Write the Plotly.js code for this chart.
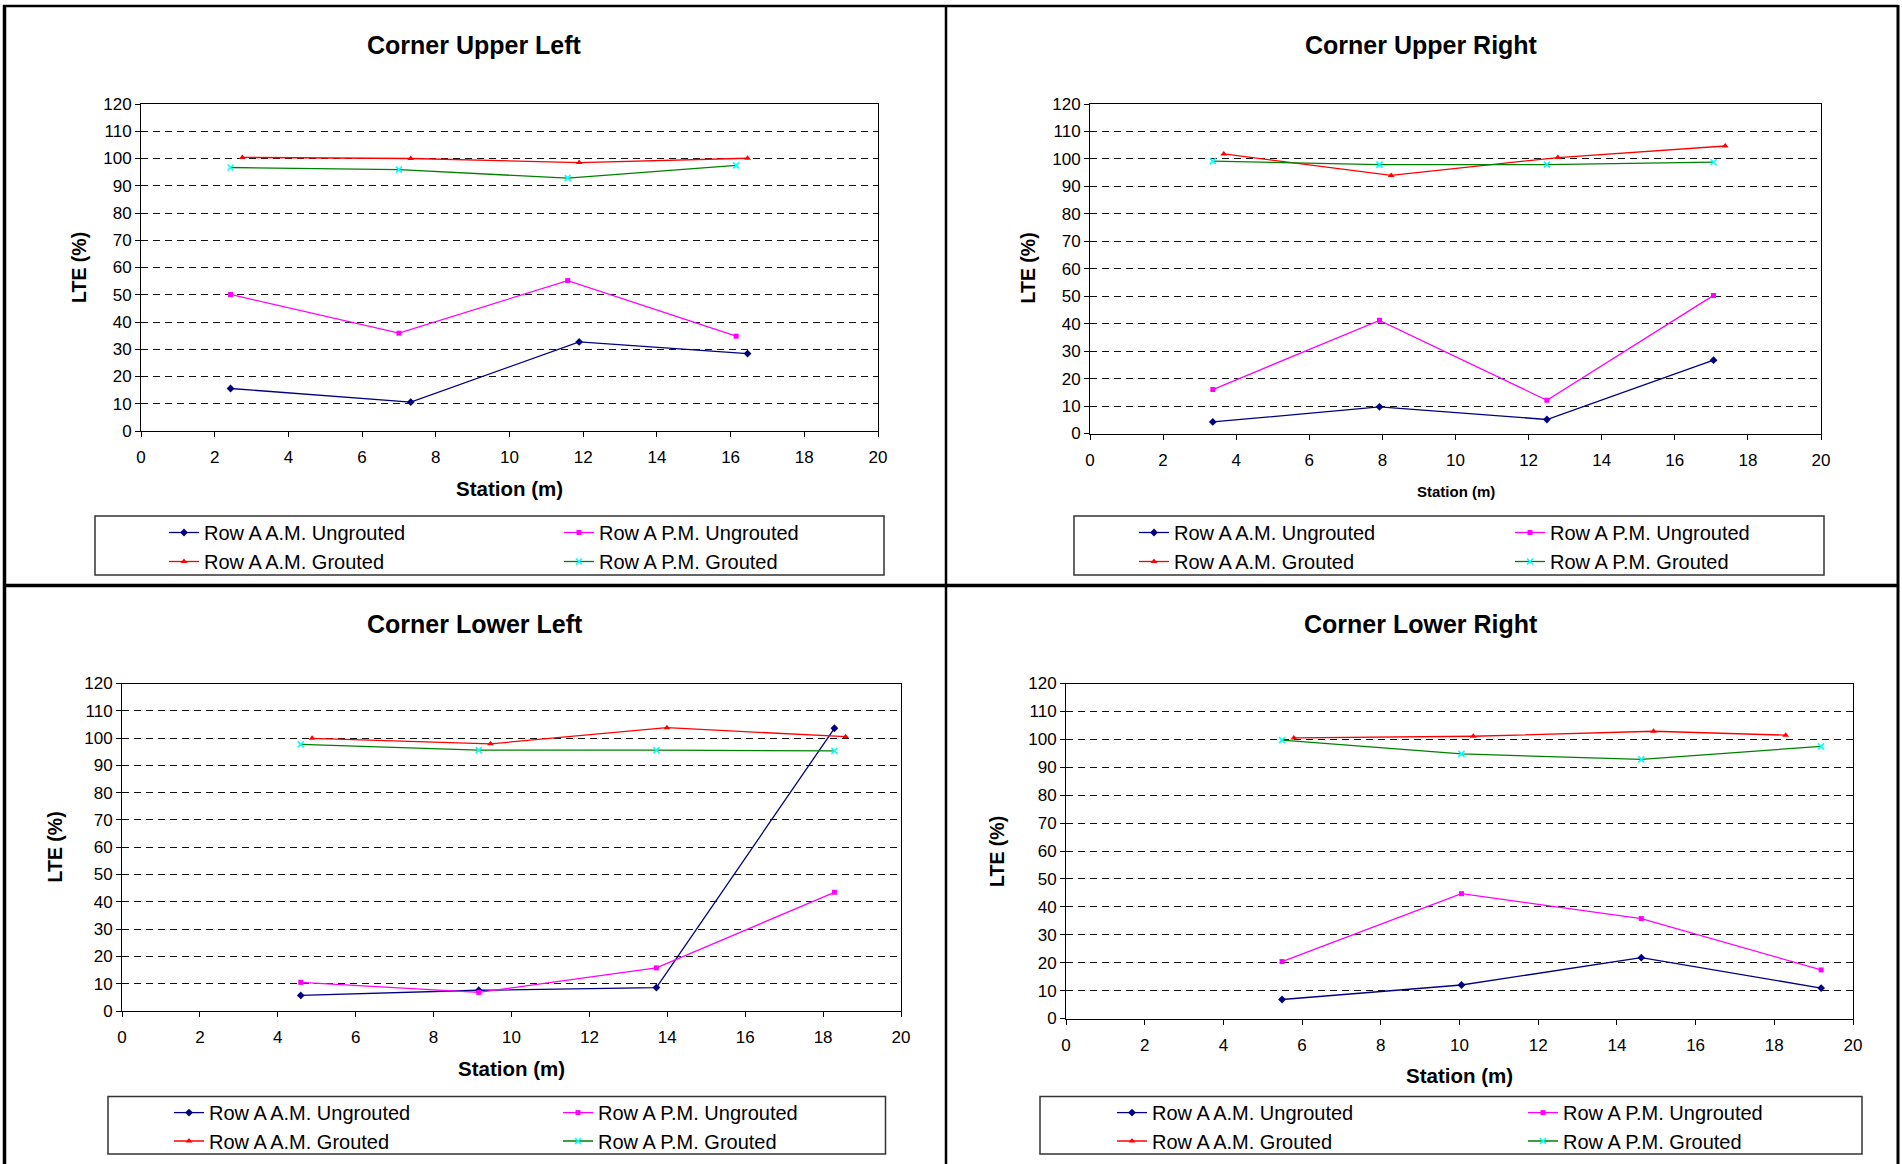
<!DOCTYPE html>
<html>
<head>
<meta charset="utf-8">
<script src="https://cdn.plot.ly/plotly-3.0.1.min.js"></script>
<style>
html,body{margin:0;padding:0;background:#fff;}
#chart{width:1902px;height:1164px;}
</style>
</head>
<body>
<div id="chart"></div>
<script>
// ---------------- DATA ----------------
const seriesNames = ["Row A A.M. Ungrouted", "Row A P.M. Ungrouted", "Row A A.M. Grouted", "Row A P.M. Grouted"];
const panelTitles = ["Corner Upper Left", "Corner Upper Right", "Corner Lower Left", "Corner Lower Right"];
const xAxisTitle = "Station (m)";
const yAxisTitle = "LTE (%)";

// Corner Upper Left
const ulAmUngX = [2.43, 7.32, 11.89, 16.46];
const ulAmUngY = [15.6, 10.6, 32.7, 28.4];
const ulPmUngX = [2.43, 7.0, 11.58, 16.15];
const ulPmUngY = [50.1, 35.9, 55.2, 34.8];
const ulAmGrX  = [2.75, 7.32, 11.89, 16.46];
const ulAmGrY  = [100.4, 100.0, 98.5, 100.1];
const ulPmGrX  = [2.43, 7.0, 11.58, 16.15];
const ulPmGrY  = [96.7, 95.9, 92.8, 97.5];

// Corner Upper Right
const urAmUngX = [3.36, 7.92, 12.5, 17.06];
const urAmUngY = [4.2, 9.7, 5.1, 26.7];
const urPmUngX = [3.36, 7.92, 12.5, 17.06];
const urPmUngY = [16.0, 41.2, 12.1, 50.3];
const urAmGrX  = [3.66, 8.24, 12.8, 17.38];
const urAmGrY  = [101.8, 94.0, 100.5, 104.7];
const urPmGrX  = [3.36, 7.92, 12.5, 17.06];
const urPmGrY  = [99.2, 97.9, 97.9, 98.8];

// Corner Lower Left
const llAmUngX = [4.59, 9.16, 13.72, 18.29];
const llAmUngY = [5.7, 7.6, 8.6, 103.6];
const llPmUngX = [4.59, 9.16, 13.72, 18.29];
const llPmUngY = [10.5, 6.8, 15.8, 43.5];
const llAmGrX  = [4.88, 9.46, 13.99, 18.58];
const llAmGrY  = [99.9, 97.9, 103.8, 100.5];
const llPmGrX  = [4.59, 9.16, 13.72, 18.29];
const llPmGrY  = [97.7, 95.6, 95.6, 95.3];

// Corner Lower Right
const lrAmUngX = [5.49, 10.05, 14.62, 19.19];
const lrAmUngY = [6.8, 12.0, 21.8, 10.9];
const lrPmUngX = [5.49, 10.05, 14.62, 19.19];
const lrPmUngY = [20.4, 44.7, 35.8, 17.4];
const lrAmGrX  = [5.79, 10.35, 14.93, 18.29];
const lrAmGrY  = [100.5, 101.1, 102.9, 101.5];
const lrPmGrX  = [5.49, 10.05, 14.62, 19.19];
const lrPmGrY  = [99.7, 94.8, 92.8, 97.5];

const xTickVals = [0, 2, 4, 6, 8, 10, 12, 14, 16, 18, 20];
const yTickVals = [0, 10, 20, 30, 40, 50, 60, 70, 80, 90, 100, 110, 120];

// ---------------- LAYOUT / STYLE ----------------
const W = 1902, H = 1164;
const FONT = '"Liberation Sans", Arial, Helvetica, sans-serif';
const px = v => v / W;
const py = v => 1 - v / H;

const panelData = [
  [[ulAmUngX, ulAmUngY], [ulPmUngX, ulPmUngY], [ulAmGrX, ulAmGrY], [ulPmGrX, ulPmGrY]],
  [[urAmUngX, urAmUngY], [urPmUngX, urPmUngY], [urAmGrX, urAmGrY], [urPmGrX, urPmGrY]],
  [[llAmUngX, llAmUngY], [llPmUngX, llPmUngY], [llAmGrX, llAmGrY], [llPmGrX, llPmGrY]],
  [[lrAmUngX, lrAmUngY], [lrPmUngX, lrPmUngY], [lrAmGrX, lrAmGrY], [lrPmGrX, lrPmGrY]]
];

// pixel geometry per panel
const geo = [
  {plot:[141, 878, 104, 431],   title:[474.5, 45],  xt:[509.5, 488.5, 20.5], yt:[79, 268],   box:[95, 884, 516, 575],      txt:[204, 599],   rows:[532.5, 561.5]},
  {plot:[1090, 1821, 104, 433.5], title:[1421, 45], xt:[1455.5, 491, 15],  yt:[1027, 268.5], box:[1074, 1824, 516, 575],  txt:[1174, 1550], rows:[532.5, 561.5]},
  {plot:[122, 901, 683.5, 1011], title:[474.5, 623.6], xt:[511.5, 1068, 20.5], yt:[54.5, 847], box:[108, 885.5, 1096.6, 1154], txt:[209, 598], rows:[1112.6, 1141]},
  {plot:[1066, 1853, 683.5, 1018.5], title:[1421, 623.6], xt:[1459.5, 1075, 20.5], yt:[997, 851], box:[1040, 1862, 1096.6, 1154], txt:[1152, 1563], rows:[1112.6, 1141]}
];

const styles = [
  {line:'#000080', marker:{color:'#000080', symbol:'diamond', size:6}},
  {line:'#FF00FF', marker:{color:'#FF00FF', symbol:'square', size:5}},
  {line:'#FF0000', marker:{color:'#FF0000', symbol:'triangle-up', size:6}},
  {line:'#008000', marker:{color:'#00FFFF', symbol:'x-thin-open', size:6, line:{color:'#00FFFF', width:1.6}}}
];

const LEG_FONT = 20;
const LEG_CENTER = LEG_FONT * 1.3 / 2 + 1.5 + 5; // half item height + item gap
const traces = [];
const layout = {
  width: W, height: H,
  margin: {l:0, r:0, t:0, b:0, autoexpand:false},
  paper_bgcolor:'#fff', plot_bgcolor:'#fff',
  font: {family: FONT, color:'#000'},
  showlegend: true,
  annotations: [],
  shapes: []
};

panelData.forEach((series, p) => {
  const k = p + 1;
  const g = geo[p];
  const xa = 'x' + (k === 1 ? '' : k), ya = 'y' + (k === 1 ? '' : k);
  const legRow1 = 'legend' + (2*p + 1 === 1 ? '' : (2*p + 1));
  const legRow2 = 'legend' + (2*p + 2);
  series.forEach((s, i) => {
    const st = styles[i];
    traces.push({
      type:'scatter', mode:'lines+markers',
      x: s[0], y: s[1], name: seriesNames[i],
      xaxis: xa, yaxis: ya,
      legend: i < 2 ? legRow1 : legRow2,
      line: {color: st.line, width: 1.3},
      marker: st.marker,
      hoverinfo:'skip'
    });
  });

  layout['xaxis' + (k === 1 ? '' : k)] = {
    domain:[px(g.plot[0]), px(g.plot[1])], anchor: ya,
    range:[0, 20], tickvals: xTickVals, ticktext: xTickVals.map(String),
    showgrid:false, zeroline:false, showline:true, mirror:true,
    linecolor:'#000', linewidth:1,
    ticks:'outside', ticklen:5, tickcolor:'#000', tickwidth:1,
    tickfont:{size:17, color:'#000', family:FONT}, ticklabelstandoff:6,
    fixedrange:true
  };
  layout['yaxis' + (k === 1 ? '' : k)] = {
    domain:[py(g.plot[3]), py(g.plot[2])], anchor: xa,
    range:[0, 120], tickvals: yTickVals, ticktext: yTickVals.map(String),
    showgrid:true, gridcolor:'#111', gridwidth:1, griddash:'7px,5px',
    zeroline:false, showline:true, mirror:true,
    linecolor:'#000', linewidth:1,
    ticks:'outside', ticklen:5, tickcolor:'#000', tickwidth:1,
    tickfont:{size:17, color:'#000', family:FONT}, ticklabelstandoff:3.5,
    fixedrange:true
  };

  // legends (one per row)
  const spacing = g.txt[1] - g.txt[0];
  [legRow1, legRow2].forEach((lid, r) => {
    layout[lid] = {
      orientation:'h', xanchor:'left', yanchor:'top',
      x: px(g.txt[0] - 40), y: py(g.rows[r] - LEG_CENTER),
      entrywidth: spacing - 45, entrywidthmode:'pixels',
      font:{size:LEG_FONT, color:'#000', family:FONT},
      bgcolor:'rgba(0,0,0,0)', borderwidth:0, traceorder:'normal'
    };
  });

  // legend box
  layout.shapes.push({type:'rect', xref:'paper', yref:'paper',
    x0:px(g.box[0]), x1:px(g.box[1]), y0:py(g.box[3]), y1:py(g.box[2]),
    line:{color:'#333', width:1.5}, fillcolor:'rgba(0,0,0,0)', layer:'below'});

  // titles
  layout.annotations.push({text:panelTitles[p], xref:'paper', yref:'paper',
    x:px(g.title[0]), y:py(g.title[1]), xanchor:'center', yanchor:'middle', showarrow:false,
    font:{size:25, family:FONT, weight:'bold', color:'#000'}});
  layout.annotations.push({text:xAxisTitle, xref:'paper', yref:'paper',
    x:px(g.xt[0]), y:py(g.xt[1]), xanchor:'center', yanchor:'middle', showarrow:false,
    font:{size:g.xt[2], family:FONT, weight:'bold', color:'#000'}});
  layout.annotations.push({text:yAxisTitle, xref:'paper', yref:'paper', textangle:-90,
    x:px(g.yt[0]), y:py(g.yt[1]), xanchor:'center', yanchor:'middle', showarrow:false,
    font:{size:19.5, family:FONT, weight:'bold', color:'#000'}});
});

// panel frame lines
const frame = [
  [3, 6, 1898, 6, 2.5],      // top
  [4.5, 5, 4.5, 1164, 3.5],  // left
  [1898, 5, 1898, 1164, 3],  // right
  [946, 5, 946, 1164, 2.5],  // vertical divider
  [3, 585.5, 1898, 585.5, 3.5] // horizontal divider
];
frame.forEach(f => layout.shapes.push({type:'line', xref:'paper', yref:'paper',
  x0:px(f[0]), y0:py(f[1]), x1:px(f[2]), y1:py(f[3]), line:{color:'#000', width:f[4]}}));

Plotly.newPlot('chart', traces, layout, {staticPlot:true, displayModeBar:false});
</script>
</body>
</html>
